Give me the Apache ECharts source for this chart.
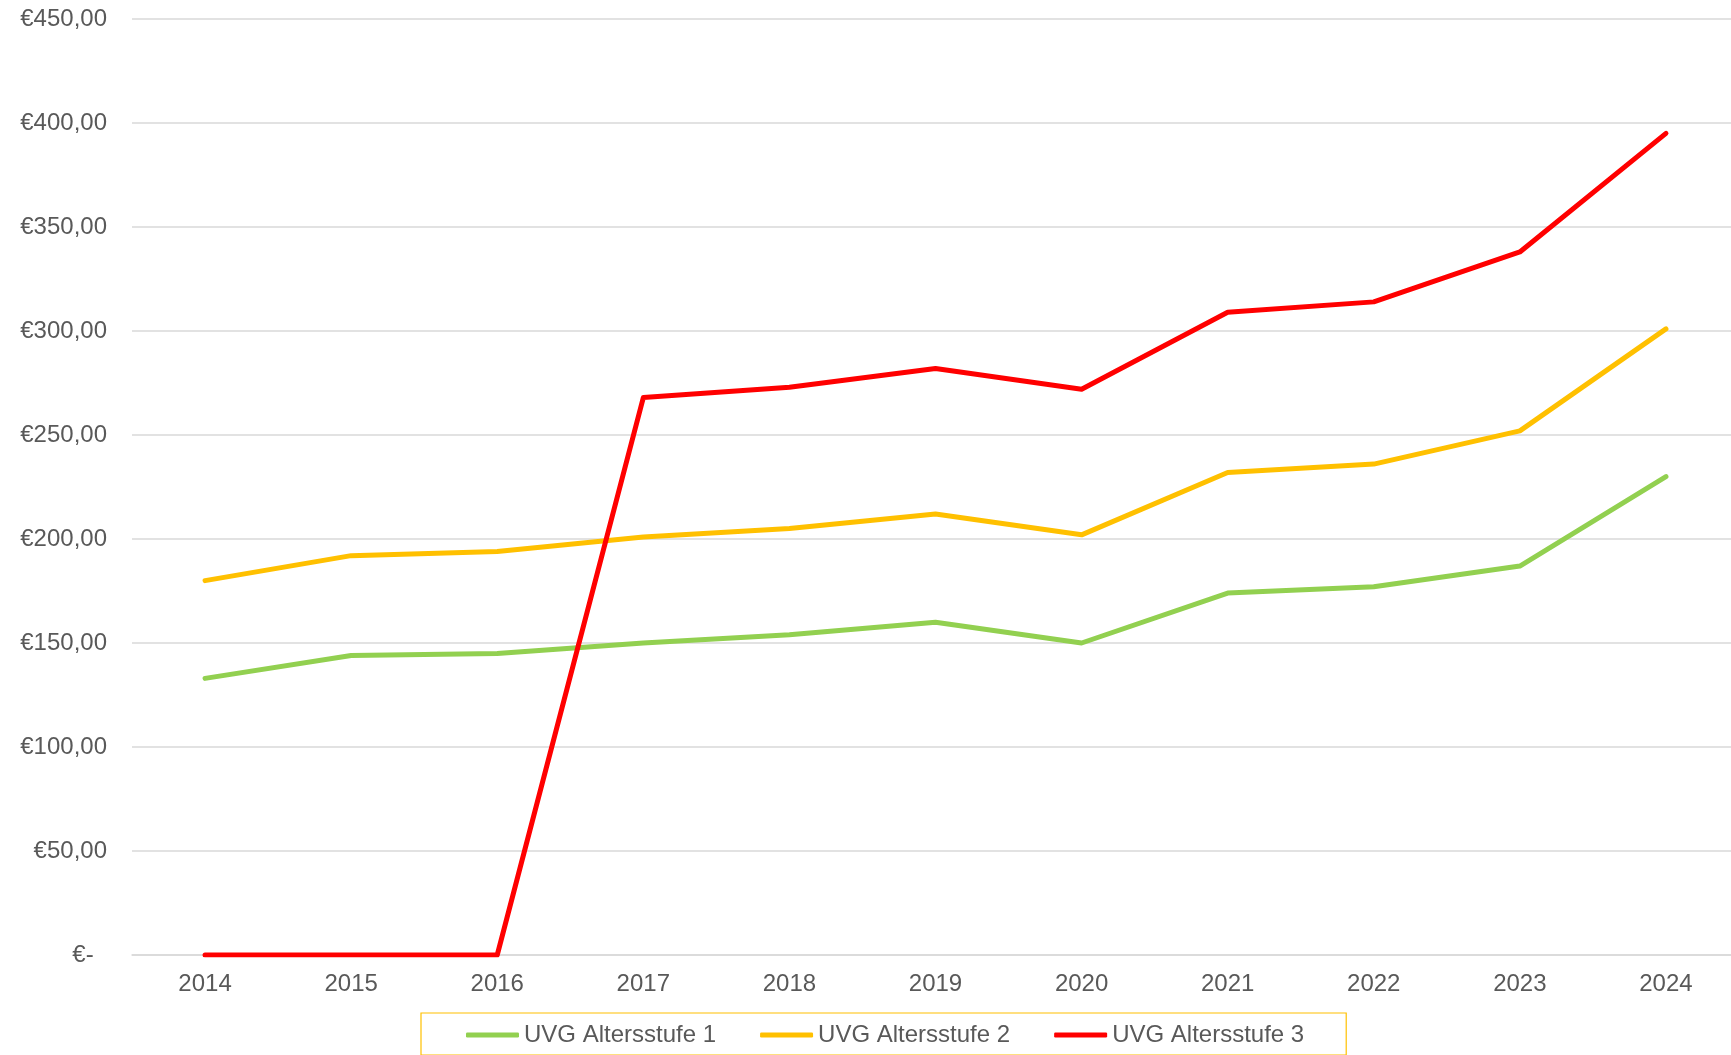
<!DOCTYPE html>
<html>
<head>
<meta charset="utf-8">
<script src="https://cdn.jsdelivr.net/npm/echarts@6/dist/echarts.min.js"></script>
<style>
html,body{margin:0;padding:0;background:#ffffff;}
#chart{width:1731px;height:1055px;}
</style>
</head>
<body>
<div id="chart"></div>
<script>
const years = ['2014','2015','2016','2017','2018','2019','2020','2021','2022','2023','2024'];
const stufe1 = [133,144,145,150,154,160,150,174,177,187,230];
const stufe2 = [180,192,194,201,205,212,202,232,236,252,301];
const stufe3 = [0,0,0,268,273,282,272,309,314,338,395];
const seriesNames = ['UVG Altersstufe 1','UVG Altersstufe 2','UVG Altersstufe 3'];
const seriesColors = ['#92D050','#FFC000','#FF0000'];

const chart = echarts.init(document.getElementById('chart'), null, {renderer:'canvas'});
const font = 'Arial, "Liberation Sans", sans-serif';
const textColor = '#595959';

function mk(name, data, color){
  return {
    name: name, type: 'line', data: data,
    symbol: 'none', showSymbol: false,
    lineStyle: {color: color, width: 5, cap: 'round', join: 'round'},
    itemStyle: {color: color},
    emphasis: {disabled: true}
  };
}

chart.setOption({
  animation: false,
  backgroundColor: '#ffffff',
  grid: {left: 132, width: 1607, top: 19, bottom: 100, containLabel: false, outerBoundsMode: 'none'},
  xAxis: {
    type: 'category', data: years, boundaryGap: true,
    axisTick: {show: false},
    axisLine: {show: true, lineStyle: {color: '#D9D9D9', width: 1.5}},
    axisLabel: {color: textColor, fontFamily: font, fontSize: 24, margin: 17}
  },
  yAxis: {
    type: 'value', min: 0, max: 450, interval: 50,
    axisLine: {show: false}, axisTick: {show: false},
    splitLine: {lineStyle: {color: '#D9D9D9', width: 1.5}},
    axisLabel: {
      color: textColor, fontFamily: font, fontSize: 24, margin: 25,
      formatter: function(v){ return v === 0 ? '€-  ' : '€' + v.toFixed(2).replace('.', ','); }
    }
  },
  legend: {
    data: seriesNames,
    left: 421, top: 1013,
    padding: [10, 42, 8, 45],
    icon: 'roundRect',
    itemWidth: 53, itemHeight: 5, itemGap: 44,
    borderColor: '#FFC000', borderWidth: 1.2,
    textStyle: {color: textColor, fontFamily: font, fontSize: 24}
  },
  series: [
    mk(seriesNames[0], stufe1, seriesColors[0]),
    mk(seriesNames[1], stufe2, seriesColors[1]),
    mk(seriesNames[2], stufe3, seriesColors[2])
  ]
});
</script>
</body>
</html>
